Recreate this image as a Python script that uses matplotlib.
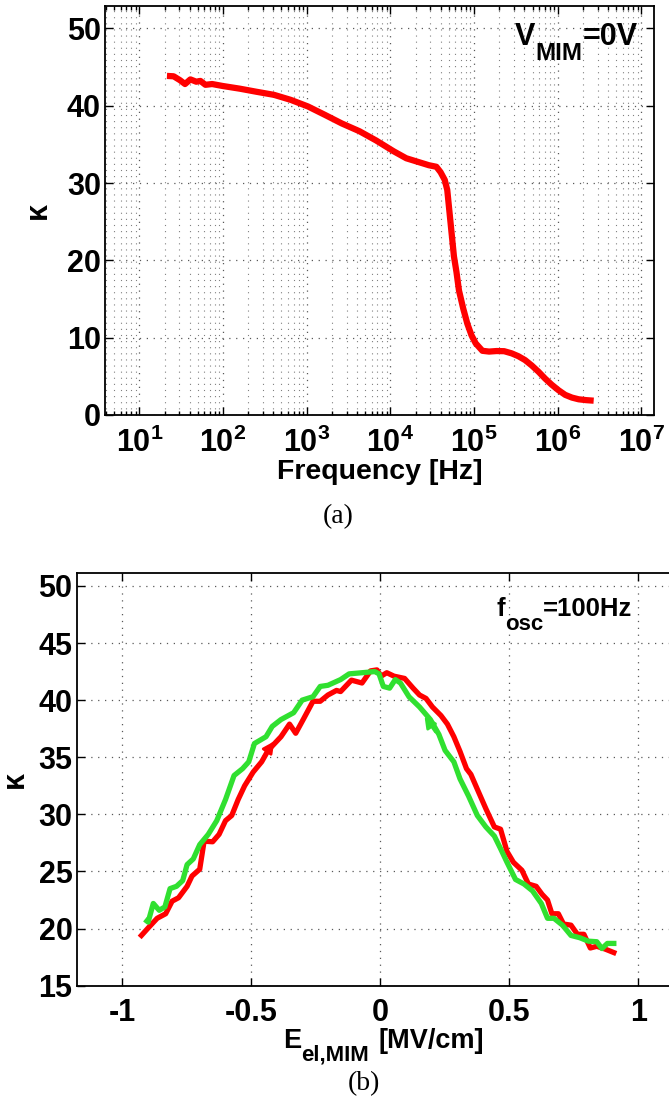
import numpy as np
import matplotlib
matplotlib.use('Agg')
import matplotlib.pyplot as plt
from matplotlib.ticker import FixedLocator, FixedFormatter, LogLocator, NullFormatter

plt.rcParams['font.family'] = ['Liberation Sans', 'DejaVu Sans']
plt.rcParams['font.weight'] = 'bold'
plt.rcParams['mathtext.fontset'] = 'custom'
plt.rcParams['mathtext.rm'] = 'Liberation Sans:bold'
plt.rcParams['mathtext.bf'] = 'Liberation Sans:bold'
plt.rcParams['mathtext.it'] = 'Liberation Sans:bold'

# (a) kappa vs frequency, log10(f) and kappa
logf_a = [1.33, 1.41, 1.485, 1.546, 1.61, 1.68, 1.73, 1.79, 1.87, 1.995, 2.2, 2.40,
          2.61, 2.81, 3.015, 3.22, 3.42, 3.63, 3.83, 4.04, 4.19, 4.34, 4.46, 4.55,
          4.60, 4.65, 4.68, 4.72, 4.76, 4.79, 4.82, 4.87, 4.92, 4.97, 5.02, 5.10,
          5.18, 5.27, 5.36, 5.45, 5.53, 5.61, 5.69, 5.77, 5.85, 5.93, 6.01, 6.09,
          6.17, 6.25, 6.34, 6.43]
kappa_a = [43.85, 43.8, 43.3, 42.8, 43.4, 43.1, 43.2, 42.7, 42.8, 42.55, 42.2, 41.8,
           41.4, 40.75, 39.9, 38.8, 37.7, 36.7, 35.5, 34.1, 33.2, 32.7, 32.3, 32.1,
           31.4, 30.4, 29.1, 24.8, 20.5, 18.5, 16.1, 13.8, 11.8, 10.3, 9.26, 8.3,
           8.2, 8.27, 8.25, 7.97, 7.6, 7.1, 6.4, 5.6, 4.7, 3.9, 3.2, 2.6,
           2.25, 2.03, 1.92, 1.85]

# (b) kappa vs field, red sweep and green sweep
e_red = [-0.926, -0.898, -0.865, -0.832, -0.807, -0.782, -0.749, -0.73, -0.70, -0.683,
         -0.65, -0.625, -0.60, -0.576, -0.551, -0.526, -0.493, -0.46, -0.435, -0.385,
         -0.352, -0.328, -0.299, -0.261, -0.233, -0.203, -0.17, -0.154, -0.112, -0.071,
         -0.038, -0.013, 0.003, 0.025, 0.053, 0.094, 0.127, 0.152, 0.177, 0.202,
         0.235, 0.26, 0.285, 0.309, 0.334, 0.351, 0.376, 0.409, 0.442, 0.466,
         0.491, 0.516, 0.549, 0.574, 0.604, 0.627, 0.648, 0.665, 0.69, 0.71,
         0.739, 0.764, 0.789, 0.814, 0.839, 0.872, 0.905]
k_red = [19.4, 20.1, 20.9, 21.3, 22.4, 22.7, 23.7, 24.6, 25.2, 27.65,
         27.6, 28.25, 29.45, 29.9, 31.3, 32.5, 33.7, 34.6, 35.6, 36.8,
         37.9, 37.1, 38.3, 39.9, 39.9, 40.45, 40.85, 40.75, 41.75, 41.5,
         42.56, 42.65, 42.1, 42.4, 42.1, 41.9, 41.05, 40.45, 40.15, 39.4,
         38.65, 37.9, 36.8, 35.5, 34.0, 33.5, 32.2, 30.5, 28.9, 28.7,
         26.75, 25.8, 25.1, 23.9, 23.7, 23.0, 22.5, 21.3, 21.3, 20.4,
         20.3, 19.5, 19.5, 18.3, 18.45, 18.2, 17.9]

e_green = [-0.905, -0.90, -0.88, -0.857, -0.835, -0.815, -0.79, -0.766, -0.749, -0.725,
           -0.70, -0.667, -0.634, -0.60, -0.567, -0.534, -0.51, -0.488, -0.443, -0.419,
           -0.385, -0.336, -0.303, -0.261, -0.233, -0.203, -0.154, -0.121, -0.071, -0.0215,
           -0.005, 0.0116, 0.036, 0.058, 0.078, 0.111, 0.152, 0.194, 0.227, 0.251,
           0.285, 0.309, 0.342, 0.376, 0.409, 0.442, 0.466, 0.491, 0.524, 0.557,
           0.59, 0.624, 0.648, 0.673, 0.706, 0.739, 0.773, 0.806, 0.839, 0.859,
           0.88, 0.905]
k_green = [20.66, 20.57, 22.2, 21.6, 21.9, 23.5, 23.7, 24.2, 25.6, 26.1,
           27.35, 28.25, 29.45, 31.3, 33.4, 34.0, 34.6, 36.2, 36.8, 37.7,
           38.3, 38.9, 40.0, 40.3, 41.2, 41.3, 41.8, 42.3, 42.4, 42.5,
           42.3, 41.2, 41.05, 41.8, 41.5, 40.3, 39.4, 38.3, 37.0, 35.6,
           34.6, 33.1, 31.6, 29.9, 28.9, 28.1, 27.0, 25.8, 24.3, 23.9,
           23.3, 22.2, 20.9, 20.9, 20.3, 19.4, 19.2, 18.9, 18.85, 18.25,
           18.7, 18.7]

# sweep direction arrows (tail -> head)
arrow_red = [(-0.46, 34.8), (-0.405, 36.6)]
arrow_green = [(0.22, 37.0), (0.165, 38.8)]

red = '#ff0000'
green = '#30e030'
grid_kw = dict(color='0.35', linestyle=(0, (1, 4.5)), linewidth=0.9)


def sub_label(ax, x, y, parts, size_main, size_sub, drop):
    # MATLAB-style text with a low, large subscript
    renderer = ax.figure.canvas.get_renderer()
    dx = 0
    for txt, is_sub, gap in parts:
        dx += gap
        t = ax.annotate(txt, xy=(x, y), xycoords='axes fraction',
                        xytext=(dx, -drop if is_sub else 0), textcoords='offset pixels',
                        fontsize=size_sub if is_sub else size_main, fontweight='bold',
                        ha='left', va='baseline', annotation_clip=False)
        dx += t.get_window_extent(renderer).width


fig = plt.figure(figsize=(6.69, 10.99), dpi=100)

# ---- (a)
ax1 = fig.add_axes([0.157, 0.6224, 0.8206, 0.3722])
ax1.semilogx(10 ** np.array(logf_a), kappa_a, color=red, linewidth=4.5,
             solid_capstyle='butt')
ax1.set_xlim(3.89, 1.416e7)
ax1.set_ylim(0, 52.9)
ax1.xaxis.set_major_locator(FixedLocator([10.0 ** n for n in range(1, 8)]))
ax1.xaxis.set_major_formatter(FixedFormatter([r'$\mathbf{10^{%d}}$' % n for n in range(1, 8)]))
ax1.xaxis.set_minor_locator(LogLocator(base=10, subs=np.arange(2, 10), numticks=20))
ax1.xaxis.set_minor_formatter(NullFormatter())
ax1.set_yticks([0, 10, 20, 30, 40, 50])
ax1.grid(True, which='major', **grid_kw)
ax1.grid(True, which='minor', axis='x', color='0.5', linestyle=(0, (1, 4.5)), linewidth=0.8)
ax1.tick_params(which='both', direction='in', top=True, right=True, labelsize=22, width=1)
ax1.tick_params(which='major', length=6)
ax1.tick_params(which='minor', length=3)
ax1.tick_params(axis='y', pad=3)
ax1.tick_params(axis='x', pad=9)
ax1.set_xlabel('Frequency [Hz]', fontsize=20.5, fontweight='bold', labelpad=0)
ax1.set_ylabel('κ', fontsize=22, fontweight='bold', labelpad=10)
for s in ax1.spines.values():
    s.set_linewidth(1.3)
sub_label(ax1, 0.747, 0.905, [('V', False, 0), ('MIM', True, 0), ('=0V', False, 0)],
          22, 17.5, 15)

# ---- (b)
ax2 = fig.add_axes([0.1146, 0.1031, 0.9078, 0.3752])
ax2.plot(e_red, k_red, color=red, linewidth=3.8)
ax2.plot(e_green, k_green, color=green, linewidth=3.8)
ax2.annotate('', xy=arrow_red[1], xytext=arrow_red[0],
             arrowprops=dict(arrowstyle='-|>', color=red, lw=2, mutation_scale=17))
ax2.annotate('', xy=arrow_green[1], xytext=arrow_green[0],
             arrowprops=dict(arrowstyle='-|>', color=green, lw=2, mutation_scale=17))
ax2.set_xlim(-1.177, 1.177)
ax2.set_ylim(15, 51.1)
ax2.set_xticks([-1, -0.5, 0, 0.5, 1])
ax2.set_xticklabels(['-1', '-0.5', '0', '0.5', '1'])
ax2.set_yticks([15, 20, 25, 30, 35, 40, 45, 50])
ax2.grid(True, which='major', **grid_kw)
ax2.tick_params(which='both', direction='in', top=True, right=True, labelsize=22,
                length=6, width=1)
ax2.tick_params(axis='y', pad=3)
ax2.tick_params(axis='x', pad=9)
ax2.set_ylabel('κ', fontsize=22, fontweight='bold', labelpad=6)
for s in ax2.spines.values():
    s.set_linewidth(1.3)
sub_label(ax2, 0.691, 0.8965, [('f', False, 0), ('osc', True, 0), ('=100Hz', False, 0)],
          18.5, 16, 14)
sub_label(ax2, 0.34, -0.151, [('E', False, 0), ('el,MIM', True, 0), ('[MV/cm]', False, 9)],
          19.5, 16, 13)

fig.text(0.505, 1 - 517 / 1099, '(a)', family='Liberation Serif', fontweight='normal',
         fontsize=20, ha='center', va='center')
fig.text(0.544, 1 - 1084 / 1099, '(b)', family='Liberation Serif', fontweight='normal',
         fontsize=20, ha='center', va='center')

fig.savefig('out.png', dpi=100)
